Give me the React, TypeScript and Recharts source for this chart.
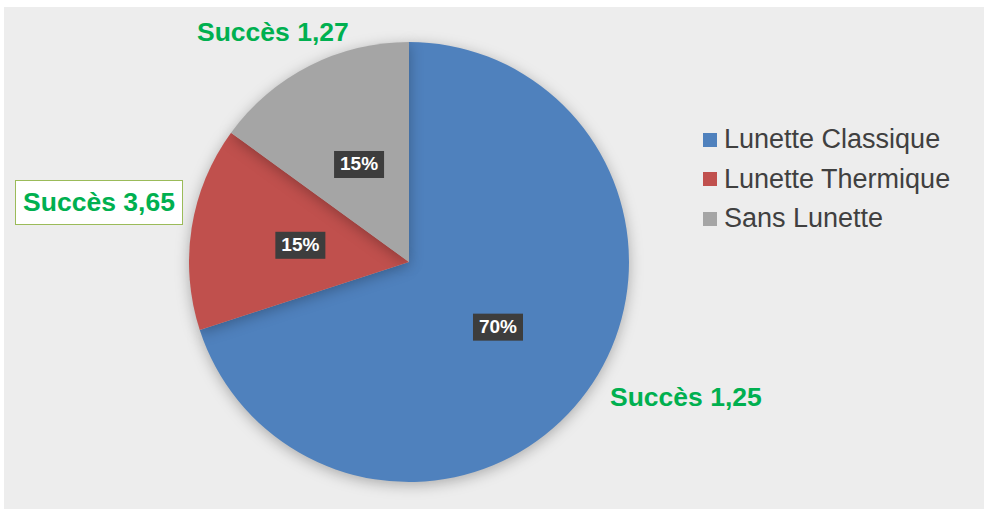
import { PieChart, Pie, Cell, Legend } from "recharts";

const categories = ["Lunette Classique", "Lunette Thermique", "Sans Lunette"];
const shares = [70, 15, 15];
const colors = ["#4F81BD", "#C0504D", "#A5A5A5"];
const successLabels = ["Succès 1,25", "Succès 3,65", "Succès 1,27"];

const data = categories.map((name, i) => ({ name, value: shares[i] }));

const RAD = Math.PI / 180;

const renderLabel = (props: any) => {
  const { cx, cy, midAngle, outerRadius, percent } = props;
  const r = outerRadius * 0.5;
  const x = cx + r * Math.cos(-midAngle * RAD);
  const y = cy + r * Math.sin(-midAngle * RAD);
  return (
    <g>
      <rect x={x - 25} y={y - 13} width={50} height={27} fill="#3d3d3d" />
      <text
        x={x}
        y={y + 1}
        fill="#fff"
        fontSize={19}
        fontWeight="bold"
        textAnchor="middle"
        dominantBaseline="middle"
        fontFamily="Liberation Sans, Arial, sans-serif"
      >
        {`${Math.round(percent * 100)}%`}
      </text>
    </g>
  );
};

const renderLegend = (props: any) => {
  const { payload } = props;
  return (
    <div style={{ fontFamily: "Liberation Sans, Arial, sans-serif" }}>
      {payload.map((p: any) => (
        <div key={p.value} style={{ display: "flex", alignItems: "center", height: 39.5 }}>
          <span style={{ width: 14, height: 14, background: p.color, marginRight: 7, display: "inline-block" }} />
          <span style={{ fontSize: 27, color: "#404040" }}>{p.value}</span>
        </div>
      ))}
    </div>
  );
};

const green: React.CSSProperties = {
  position: "absolute",
  color: "#00B050",
  fontWeight: "bold",
  fontSize: 26.5,
  fontFamily: "Liberation Sans, Arial, sans-serif",
  whiteSpace: "nowrap",
  lineHeight: 1,
};

export default function App() {
  return (
    <div style={{ position: "absolute", left: 0, top: 0, width: 988, height: 512, background: "#fff" }}>
      <style>{`.recharts-pie-sector { filter: drop-shadow(0 3px 7px rgba(0,0,0,0.28)); }`}</style>
      <div style={{ position: "absolute", left: 4, top: 7, width: 980, height: 502, background: "#EDEDED" }} />
      <div style={{ position: "absolute", left: 0, top: 0 }}>
        <PieChart width={988} height={512} margin={{ top: 0, right: 0, bottom: 0, left: 0 }}>
          <Pie
            data={data}
            dataKey="value"
            nameKey="name"
            cx={409}
            cy={262}
            outerRadius={220}
            startAngle={90}
            endAngle={-270}
            stroke="none"
            label={renderLabel}
            labelLine={false}
            isAnimationActive={false}
          >
            {data.map((d, i) => (
              <Cell key={d.name} fill={colors[i]} />
            ))}
          </Pie>
          <Legend
            layout="vertical"
            content={renderLegend}
            wrapperStyle={{ position: "absolute", left: 703, top: 120, width: 280 }}
          />
        </PieChart>
      </div>
      <div style={{ ...green, left: 197, top: 19 }}>{successLabels[2]}</div>
      <div
        style={{
          ...green,
          left: 15,
          top: 180,
          width: 166,
          height: 43,
          background: "#fff",
          border: "1.5px solid #9BBB59",
          display: "flex",
          alignItems: "center",
          justifyContent: "center",
        }}
      >
        {successLabels[1]}
      </div>
      <div style={{ ...green, left: 610, top: 384 }}>{successLabels[0]}</div>
    </div>
  );
}
